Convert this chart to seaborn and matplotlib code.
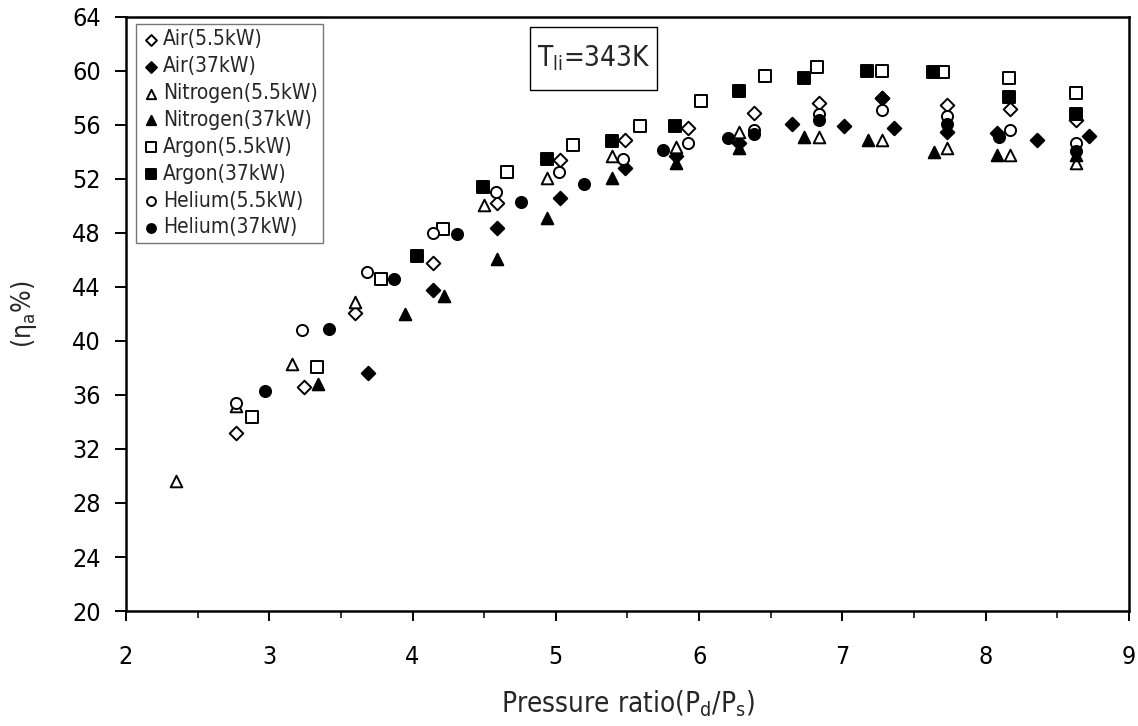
import matplotlib
matplotlib.use("Agg")
import matplotlib.pyplot as plt
import matplotlib.patches as patches
import pandas as pd
import seaborn as sns
from matplotlib.ticker import MultipleLocator

# Data
air_small_x = [2.77, 3.24, 3.60, 4.14, 4.59, 5.03, 5.48, 5.92, 6.38, 6.84, 7.28, 7.73, 8.17, 8.63]
air_small_y = [33.2, 36.6, 42.05, 45.8, 50.2, 53.4, 54.9, 55.8, 56.9, 57.65, 58.0, 57.5, 57.2, 56.4]

air_big_x = [3.69, 4.14, 4.59, 5.03, 5.48, 5.84, 6.28, 6.65, 7.01, 7.28, 7.36, 7.73, 8.08, 8.36, 8.72]
air_big_y = [37.6, 43.8, 48.4, 50.6, 52.8, 53.7, 54.7, 56.1, 55.9, 58.0, 55.8, 55.5, 55.4, 54.9, 55.2]

n2_small_x = [2.35, 2.77, 3.16, 3.60, 4.50, 4.94, 5.39, 5.84, 6.28, 6.84, 7.28, 7.73, 8.17, 8.63]
n2_small_y = [29.6, 35.2, 38.3, 42.9, 50.1, 52.1, 53.7, 54.4, 55.5, 55.1, 54.9, 54.3, 53.8, 53.2]

n2_big_x = [3.34, 3.95, 4.22, 4.59, 4.94, 5.39, 5.84, 6.28, 6.73, 7.18, 7.64, 8.08, 8.63]
n2_big_y = [36.8, 42.0, 43.3, 46.1, 49.1, 52.1, 53.2, 54.3, 55.1, 54.9, 54.0, 53.8, 53.8]

ar_small_x = [2.88, 3.33, 3.78, 4.21, 4.66, 5.12, 5.59, 6.01, 6.46, 6.82, 7.28, 7.70, 8.16, 8.63]
ar_small_y = [34.4, 38.1, 44.6, 48.3, 52.5, 54.5, 55.9, 57.8, 59.6, 60.3, 60.0, 59.9, 59.5, 58.4]

ar_big_x = [4.03, 4.49, 4.94, 5.39, 5.83, 6.28, 6.73, 7.17, 7.63, 8.16, 8.63]
ar_big_y = [46.3, 51.4, 53.5, 54.8, 55.9, 58.5, 59.5, 60.0, 59.9, 58.1, 56.8]

he_small_x = [2.77, 3.23, 3.68, 4.14, 4.58, 5.02, 5.47, 5.92, 6.38, 6.84, 7.28, 7.73, 8.17, 8.63]
he_small_y = [35.4, 40.8, 45.1, 48.0, 51.0, 52.5, 53.5, 54.7, 55.6, 56.8, 57.1, 56.7, 55.6, 54.7]

he_big_x = [2.97, 3.42, 3.87, 4.31, 4.76, 5.20, 5.75, 6.20, 6.38, 6.84, 7.73, 8.09, 8.63]
he_big_y = [36.3, 40.9, 44.6, 47.9, 50.3, 51.6, 54.15, 55.0, 55.3, 56.4, 56.1, 55.1, 54.1]

series = [
    ("Air(5.5kW)", air_small_x, air_small_y, "D", False),
    ("Air(37kW)", air_big_x, air_big_y, "D", True),
    ("Nitrogen(5.5kW)", n2_small_x, n2_small_y, "^", False),
    ("Nitrogen(37kW)", n2_big_x, n2_big_y, "^", True),
    ("Argon(5.5kW)", ar_small_x, ar_small_y, "s", False),
    ("Argon(37kW)", ar_big_x, ar_big_y, "s", True),
    ("Helium(5.5kW)", he_small_x, he_small_y, "o", False),
    ("Helium(37kW)", he_big_x, he_big_y, "o", True),
]
sizes = {"D": 48, "^": 70, "s": 68, "o": 64}

sns.set_style("ticks")
plt.rcParams['font.family'] = ['DejaVu Sans']
plt.rcParams['font.stretch'] = 'condensed'
plt.rcParams['mathtext.default'] = 'regular'

fig = plt.figure(figsize=(11.38, 7.26), dpi=100)
ax = fig.add_axes([0.1107, 0.1584, 0.8813, 0.8182])

for name, xs, ys, mk, filled in series:
    df = pd.DataFrame({'x': xs, 'y': ys})
    sns.scatterplot(data=df, x='x', y='y', ax=ax, marker=mk, s=sizes[mk],
                    color='black' if filled else 'white', edgecolor='black',
                    linewidth=1.4, label=name, zorder=3)

ax.set_xlim(2, 9)
ax.set_ylim(20, 64)
ax.xaxis.set_major_locator(MultipleLocator(1))
ax.xaxis.set_minor_locator(MultipleLocator(0.5))
ax.yaxis.set_major_locator(MultipleLocator(4))
ax.tick_params(axis='both', which='major', direction='out', width=1.4,
               labelsize=18, colors='black')
ax.tick_params(axis='y', which='major', length=8, pad=10)
ax.tick_params(axis='x', which='major', length=7.5, pad=17)
ax.tick_params(axis='x', which='minor', direction='out', length=5, width=1.3)
for sp in ax.spines.values():
    sp.set_visible(True)
    sp.set_linewidth(1.8)
    sp.set_color('black')

ax.set_xlabel('Pressure ratio(P$_{d}$/P$_{s}$)', fontsize=20, labelpad=14)
ax.set_ylabel('(η$_{a}$%)', fontsize=19, labelpad=24)

leg = ax.legend(loc='upper left', bbox_to_anchor=(0.006, 0.995), fontsize=15,
                frameon=True, fancybox=False, edgecolor='#555555',
                borderpad=0.25, labelspacing=0.33, handletextpad=0.15,
                handlelength=0.9, borderaxespad=0.2, markerscale=0.8)
leg.get_frame().set_linewidth(1.0)

# framed annotation box
ax.add_patch(patches.Rectangle((0.4028, 0.8771), 0.1266, 0.1061, transform=ax.transAxes,
                               facecolor='white', edgecolor='black', linewidth=1.0, zorder=4))
ax.text(0.466, 0.930, 'T$_{li}$=343K', transform=ax.transAxes, fontsize=20,
        ha='center', va='center', zorder=5)

fig.savefig('out.png', dpi=100)
